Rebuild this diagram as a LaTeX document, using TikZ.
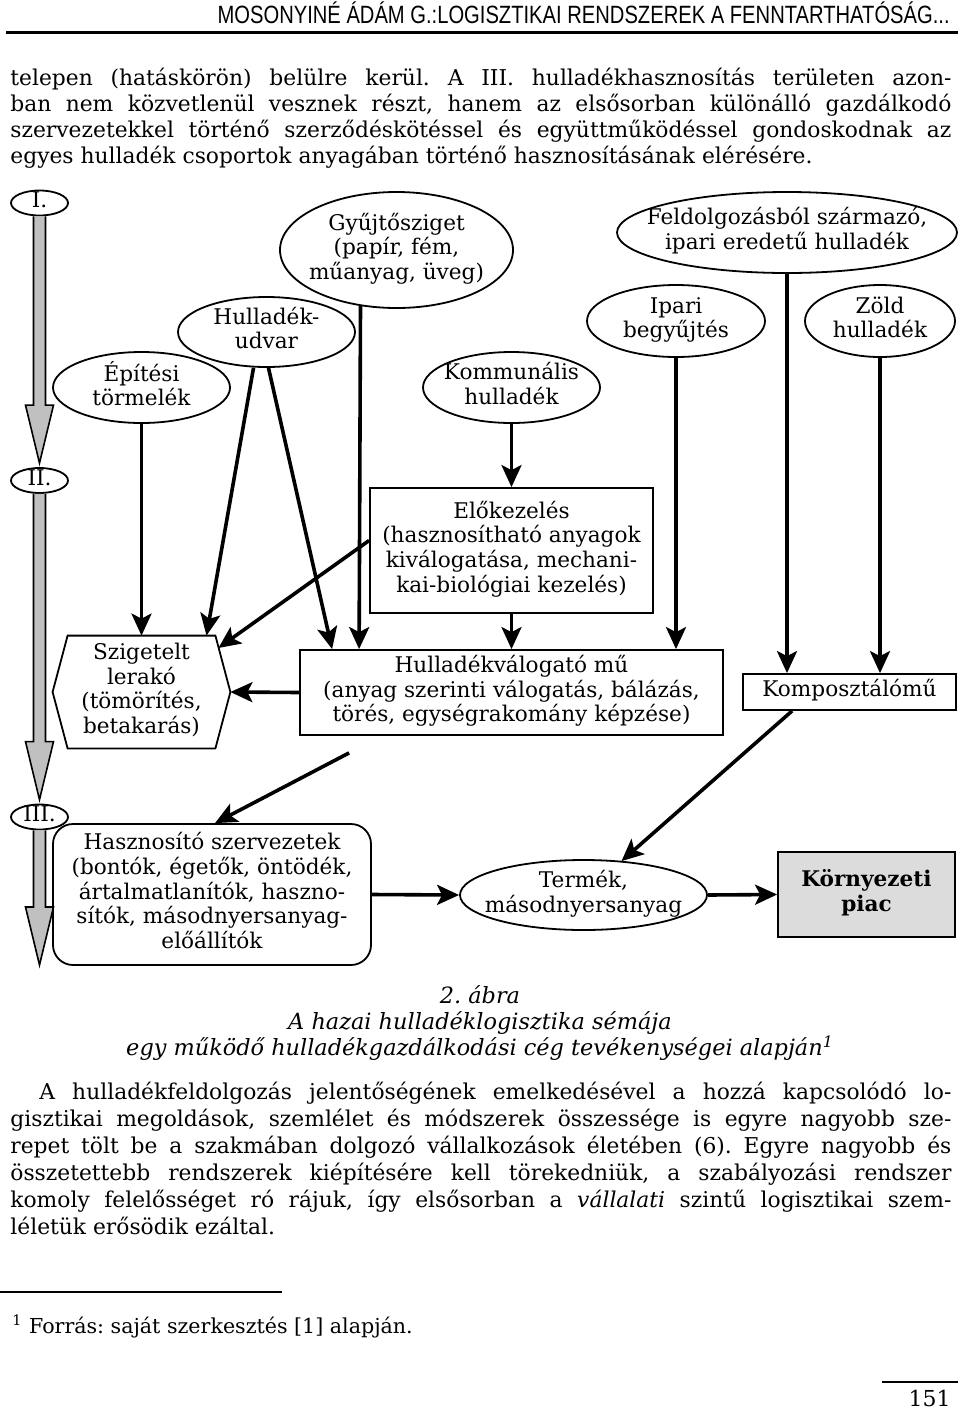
\documentclass[tikz,border=0pt]{standalone}
\usepackage{fontspec}
\setmainfont{DejaVu Serif}
\newfontfamily\headfont{Liberation Sans}
\usepackage{graphicx}
\usetikzlibrary{shapes.geometric,arrows.meta,calc}
\definecolor{arrgray}{RGB}{192,192,192}
\definecolor{piacgray}{RGB}{220,220,220}
\newcommand\dfont{\fontsize{10.8}{12.3}\selectfont}
\newcommand\bfont{\fontsize{10.9}{13}\selectfont}
\newcommand\zt[1]{\smash{\makebox[0pt]{\raisebox{-2.6pt}{\begin{tabular}{@{}c@{}}#1\end{tabular}}}}}
\newcommand\grayarrow[2]{%
  \fill[arrgray] ($(#1)+(-6,0)$) -- ($(#2)+(-6,-58)$) -- ($(#2)+(-14,-58)$) -- (#2) -- ($(#2)+(14,-58)$) -- ($(#2)+(6,-58)$) -- ($(#1)+(6,0)$) -- cycle;
  \draw[line width=0.8pt, line join=miter] ($(#1)+(-6,0)$) -- ($(#2)+(-6,-58)$) -- ($(#2)+(-14,-58)$) -- (#2) -- ($(#2)+(14,-58)$) -- ($(#2)+(6,-58)$) -- ($(#1)+(6,0)$);}
\tikzset{
  ell/.style={ellipse, draw, line width=0.9pt, inner sep=0pt, font=\dfont},
  box/.style={rectangle, draw, line width=0.9pt, inner sep=0pt, font=\dfont},
  arr/.style={line width=1.8pt, -{Stealth[length=11pt,width=10pt,inset=2.5pt]}},
  txt/.style={inner sep=0pt, anchor=base west, font=\bfont},
  captxt/.style={inner sep=0pt, anchor=base, font=\fontsize{11.2}{13}\selectfont\itshape},
}
\frenchspacing
\begin{document}
\begin{tikzpicture}[x=0.5pt, y=-0.5pt]
\useasboundingbox (0,0) rectangle (960,1409);

% header
\node[anchor=base east, inner sep=0pt] (head) at (950,23) {\resizebox{366pt}{\height}{\headfont\fontsize{12.5}{14}\selectfont MOSONYINÉ ÁDÁM G.:LOGISZTIKAI RENDSZEREK A FENNTARTHATÓSÁG...}};
\draw[line width=1.5pt] (6,32) -- (958,32);

% top paragraph
\node[txt] (p1) at (10,85) {\makebox[470.5pt][s]{telepen (hatáskörön) belülre kerül. A III. hulladékhasznosítás területen azon-}};
\node[txt] (p2) at (10,111) {\makebox[470.5pt][s]{ban nem közvetlenül vesznek részt, hanem az elsősorban különálló gazdálkodó}};
\node[txt] (p3) at (10,137) {\makebox[470.5pt][s]{szervezetekkel történő szerződéskötéssel és együttműködéssel gondoskodnak az}};
\node[txt] (p4) at (10,163) {egyes hulladék csoportok anyagában történő hasznosításának elérésére.};

% level ellipses
\node[ell, minimum width=28.5pt, minimum height=12.5pt] (I) at (39.5,203) {\zt{I.}};
\node[ell, minimum width=28.5pt, minimum height=12.5pt] (II) at (39.5,480.5) {\zt{II.}};
\node[ell, minimum width=28.5pt, minimum height=12.5pt] (III) at (39.5,817) {\zt{III.}};
\coordinate (tipI) at ($(II.north)+(0,-4)$);
\coordinate (tipII) at ($(III.north)+(0,-4)$);
\coordinate (tipIII) at (39.5,965);
\grayarrow{I.south}{tipI}
\grayarrow{II.south}{tipII}
\grayarrow{III.south}{tipIII}

% sources
\node[ell, minimum width=116.5pt, minimum height=58pt] (gyujto) at (396.5,250) {\zt{Gyűjtősziget\\(papír, fém,\\műanyag, üveg)}};
\node[ell, minimum width=88.5pt, minimum height=35pt] (hudvar) at (266.5,332) {\zt{Hulladék-\\udvar}};
\node[ell, minimum width=88.5pt, minimum height=35.5pt] (epit) at (141.5,387.5) {\zt{Építési\\törmelék}};
\node[ell, minimum width=88.5pt, minimum height=35.5pt] (komm) at (511.5,387.5) {\zt{Kommunális\\hulladék}};
\node[ell, minimum width=170pt, minimum height=40.5pt] (feld) at (787,232.5) {\zt{Feldolgozásból származó,\\ipari eredetű hulladék}};
\node[ell, minimum width=89pt, minimum height=36pt] (ipari) at (676,321) {\zt{Ipari\\begyűjtés}};
\node[ell, minimum width=75pt, minimum height=36pt] (zold) at (880,321) {\zt{Zöld\\hulladék}};

% processing
\node[box, minimum width=141.5pt, minimum height=62.5pt] (elo) at (511.5,550.5) {\zt{Előkezelés\\(hasznosítható anyagok\\kiválogatása, mechani-\\kai-biológiai kezelés)}};
\node[box, minimum width=211.5pt, minimum height=42.5pt] (valog) at (511.5,692.5) {\zt{Hulladékválogató mű\\(anyag szerinti válogatás, bálázás,\\törés, egységrakomány képzése)}};
\node[box, minimum width=106.5pt, minimum height=18pt] (kompost) at (849.5,692) {\zt{Komposztálómű}};
\node[inner sep=0pt, minimum width=88.5pt, minimum height=56pt, font=\dfont] (szig) at (141.5,692) {\zt{Szigetelt\\lerakó\\(tömörítés,\\betakarás)}};
\draw[line width=0.9pt] (szig.west) -- ($(szig.north west)+(15,0)$) -- ($(szig.north east)+(-15,0)$) -- (szig.east) -- ($(szig.south east)+(-15,0)$) -- ($(szig.south west)+(15,0)$) -- cycle;

% utilisation
\node[box, rounded corners=10pt, minimum width=159pt, minimum height=70.5pt] (haszn) at (212,894.5) {\zt{Hasznosító szervezetek\\(bontók, égetők, öntödék,\\ártalmatlanítók, haszno-\\sítók, másodnyersanyag-\\előállítók}};
\node[ell, minimum width=123.5pt, minimum height=35pt] (termek) at (583.5,895) {\zt{Termék,\\másodnyersanyag}};
\node[box, fill=piacgray, minimum width=88.5pt, minimum height=42.5pt, font=\dfont\bfseries] (piac) at (866.5,894.5) {\zt{Környezeti\\piac}};

% connectors
\draw[arr] (epit.south) -- (epit.south |- szig.north);
\draw[arr] ($(hudvar.south)+(-13,0)$) -- ($(szig.north)+(65,0)$);
\draw[arr] ($(hudvar.south)+(2,0)$) -- ($(valog.north west)+(33,0)$);
\draw[arr] ($(gyujto.south)+(-36,-3)$) -- ($(valog.north west)+(60,0)$);
\draw[arr] (komm.south) -- (elo.north);
\draw[arr] ($(elo.west)+(0,-10)$) -- ($(szig.east)+(-12,-44)$);
\draw[arr] (elo.south) -- (valog.north);
\draw[arr] (ipari.south) -- (ipari.south |- valog.north);
\draw[arr] (feld.south) -- (feld.south |- kompost.north);
\draw[arr] (zold.south) -- (zold.south |- kompost.north);
\draw[arr] (valog.west) -- (szig.east);
\draw[arr] ($(valog.south west)+(50,17)$) -- ($(haszn.north)+(3,0)$);
\draw[arr] ($(kompost.south west)+(50,0)$) -- ($(termek.north)+(38,2)$);
\draw[arr] (haszn.east) -- (termek.west);
\draw[arr] (termek.east) -- (piac.west);

% caption
\node[captxt] (cap1) at (480,1003) {2. ábra};
\node[captxt] (cap2) at (480,1029) {A hazai hulladéklogisztika sémája};
\node[captxt] (cap3) at (480,1055) {egy működő hulladékgazdálkodási cég tevékenységei alapján\textsuperscript{1}};

% bottom paragraph
\node[txt] (q1) at (39,1099) {\makebox[456pt][s]{A hulladékfeldolgozás jelentőségének emelkedésével a hozzá kapcsolódó lo-}};
\node[txt] (q2) at (10,1126) {\makebox[470.5pt][s]{gisztikai megoldások, szemlélet és módszerek összessége is egyre nagyobb sze-}};
\node[txt] (q3) at (10,1153) {\makebox[470.5pt][s]{repet tölt be a szakmában dolgozó vállalkozások életében (6). Egyre nagyobb és}};
\node[txt] (q4) at (10,1180) {\makebox[470.5pt][s]{összetettebb rendszerek kiépítésére kell törekedniük, a szabályozási rendszer}};
\node[txt] (q5) at (10,1207) {\makebox[470.5pt][s]{komoly felelősséget ró rájuk, így elsősorban a \textit{vállalati} szintű logisztikai szem-}};
\node[txt] (q6) at (10,1234) {léletük erősödik ezáltal.};

% footnote
\draw[line width=1pt] (0,1292) -- (282,1292);
\node[inner sep=0pt, anchor=base west, font=\fontsize{10.3}{12}\selectfont] (fn) at (12,1333) {\textsuperscript{1} Forrás: saját szerkesztés [1] alapján.};

% page number
\draw[line width=1pt] (882,1382) -- (958,1382);
\node[inner sep=0pt, anchor=base east, font=\fontsize{11}{13}\selectfont] (pnum) at (951,1406) {151};
\end{tikzpicture}
\end{document}
